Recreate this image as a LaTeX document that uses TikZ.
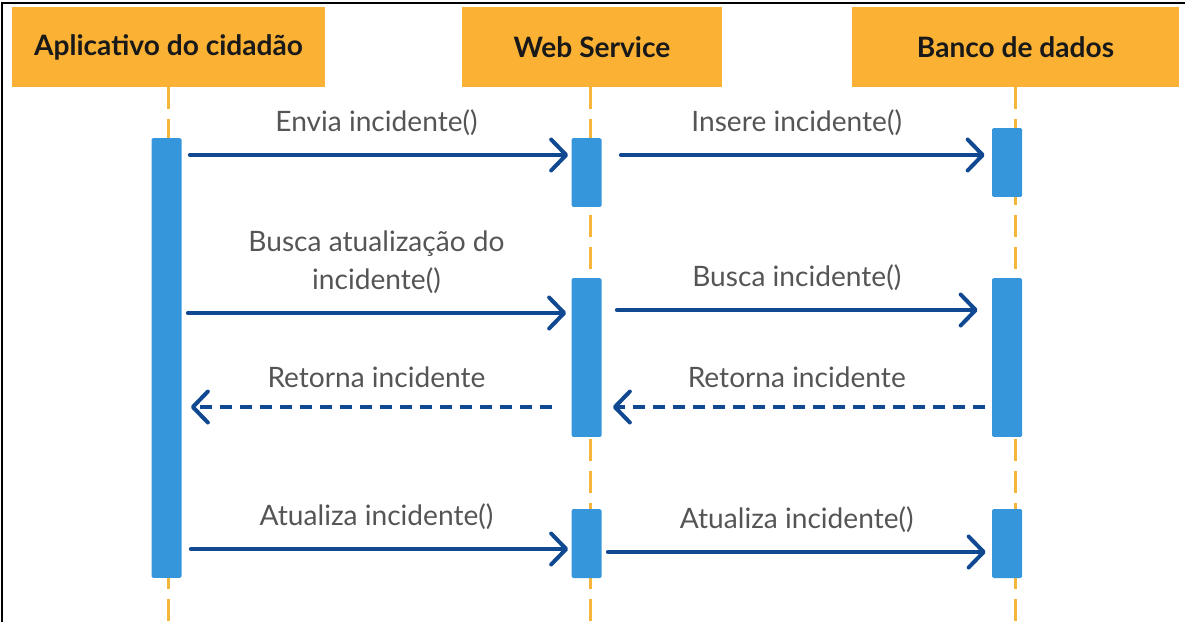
\documentclass[tikz,border=0pt]{standalone}
\usepackage{fontspec}
\setmainfont{Lato}
\usetikzlibrary{arrows.meta,positioning}
\definecolor{hdrorange}{RGB}{251,178,52}
\definecolor{lifeorange}{RGB}{246,182,60}
\definecolor{barblue}{RGB}{53,150,220}
\definecolor{msgblue}{RGB}{16,72,145}
\definecolor{lblgray}{RGB}{85,85,85}

\begin{document}
\begin{tikzpicture}[x=0.02cm,y=-0.02cm,
	hdr/.style={fill=hdrorange,minimum height=1.6cm,inner sep=0pt,text=black!90,font=\fontsize{16}{19}\selectfont\bfseries},
	bar/.style={fill=barblue,minimum width=0.6cm,inner sep=0pt,rounded corners=0.03cm},
	life/.style={draw=lifeorange,line width=0.06cm,dash pattern=on 0.44cm off 0.2cm},
	msg/.style={draw=msgblue,line width=0.08cm,line cap=round,-{Straight Barb[round,length=0.3cm,width=0.62cm]}},
	reply/.style={msg,line cap=butt,dash pattern=on 0.24cm off 0.16cm},
	lbl/.style={midway,above=0.35cm,inner sep=0pt,align=center,text=lblgray,font=\fontsize{16}{21.6}\selectfont}]
	\useasboundingbox (0,0) rectangle (1185,622);
	\draw[line width=0.04cm] (2,622) -- (2,3) -- (1185,3);
	% participants
	\node (appHdr) [hdr,minimum width=6.26cm] at (168.5,47) {Aplicativo do cidadão};
	\node (wsHdr) [hdr,minimum width=5.2cm] at (592,47) {Web Service};
	\node (dbHdr) [hdr,minimum width=6.54cm] at (1015.5,47) {Banco de dados};
	\draw[life] (appHdr.south) -- (appHdr.south |- 0,622);
	\draw[life] ([xshift=-0.04cm]wsHdr.south) -- ([xshift=-0.04cm]wsHdr.south |- 0,622);
	\draw[life] (dbHdr.south) -- (dbHdr.south |- 0,622);
	% activations
	\node (appBar) [bar,minimum height=8.8cm] at (166.5,358) {};
	\node (wsBar1) [bar,minimum height=1.38cm] at (586.5,172.5) {};
	\node (wsBar2) [bar,minimum height=3.18cm] at (586.5,357.5) {};
	\node (wsBar3) [bar,minimum height=1.38cm] at (586.5,543.5) {};
	\node (dbBar1) [bar,minimum height=1.38cm] at (1007,162.5) {};
	\node (dbBar2) [bar,minimum height=3.18cm] at (1007,357.5) {};
	\node (dbBar3) [bar,minimum height=1.38cm] at (1007,543.5) {};
	% messages
	\draw[msg,shorten <=0.16cm,shorten >=0.06cm] (appBar.east |- 0,155) -- (wsBar1.west |- 0,155) node[lbl] {Envia incidente()};
	\draw[msg,shorten <=0.38cm,shorten >=0.14cm] (wsBar1.east |- 0,155) -- (dbBar1.west |- 0,155) node[lbl] {Insere incidente()};
	\draw[msg,shorten <=0.12cm,shorten >=0.1cm] (appBar.east |- 0,313) -- (wsBar2.west |- 0,313) node[lbl] {Busca atualização do\\incidente()};
	\draw[msg,shorten <=0.3cm,shorten >=0.28cm] (wsBar2.east |- 0,310) -- (dbBar2.west |- 0,310) node[lbl] {Busca incidente()};
	\draw[reply,shorten <=0.38cm,shorten >=0.18cm] (wsBar2.west |- 0,407) -- (appBar.east |- 0,407) node[lbl] {Retorna incidente};
	\draw[reply,shorten <=0.14cm,shorten >=0.22cm] (dbBar2.west |- 0,407) -- (wsBar2.east |- 0,407) node[lbl] {Retorna incidente};
	\draw[msg,shorten <=0.18cm,shorten >=0.06cm] (appBar.east |- 0,549) -- (wsBar3.west |- 0,549) node[lbl] {Atualiza incidente()};
	\draw[msg,shorten <=0.12cm,shorten >=0.12cm] (wsBar3.east |- 0,552) -- (dbBar3.west |- 0,552) node[lbl] {Atualiza incidente()};
\end{tikzpicture}
\end{document}
